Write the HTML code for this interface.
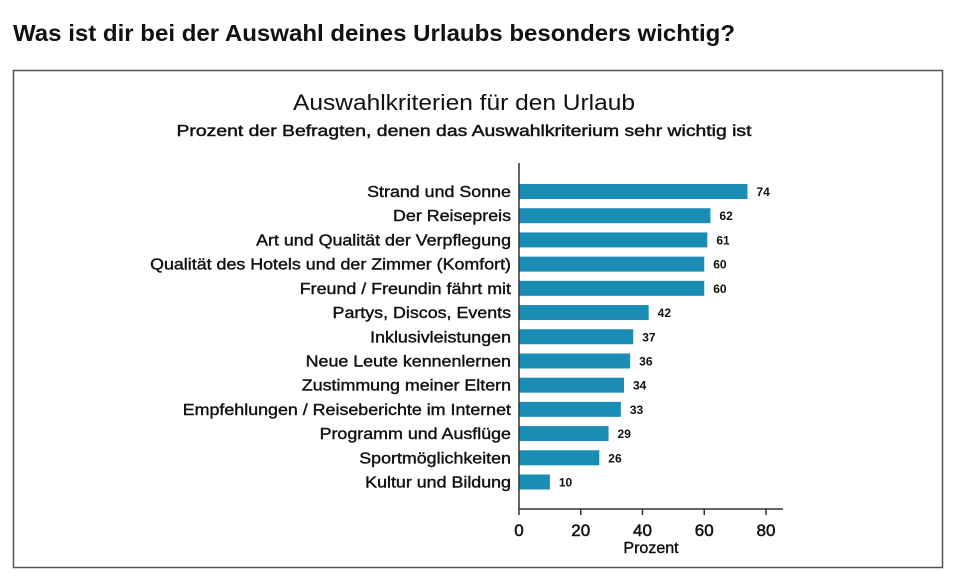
<!DOCTYPE html>
<html><head><meta charset="utf-8"><style>
body{margin:0;background:#fff;width:953px;height:579px;overflow:hidden;font-family:"Liberation Sans",sans-serif}
</style></head><body>
<svg width="953" height="579" viewBox="0 0 953 579">
<text x="13" y="41" font-size="23" font-weight="bold" fill="#111" textLength="722" lengthAdjust="spacingAndGlyphs">Was ist dir bei der Auswahl deines Urlaubs besonders wichtig?</text>
<rect x="13.5" y="70.5" width="929" height="497" fill="none" stroke="#555" stroke-width="1.5"/>
<text x="464" y="110" font-size="22" text-anchor="middle" fill="#111" textLength="342" lengthAdjust="spacingAndGlyphs">Auswahlkriterien für den Urlaub</text>
<text x="464" y="136" font-size="16" text-anchor="middle" fill="#111" stroke="#111" stroke-width="0.45" textLength="575" lengthAdjust="spacingAndGlyphs">Prozent der Befragten, denen das Auswahlkriterium sehr wichtig ist</text>
<g id="plot"></g>
</svg>
<script>
const categories=["Strand und Sonne","Der Reisepreis","Art und Qualität der Verpflegung","Qualität des Hotels und der Zimmer (Komfort)","Freund / Freundin fährt mit","Partys, Discos, Events","Inklusivleistungen","Neue Leute kennenlernen","Zustimmung meiner Eltern","Empfehlungen / Reiseberichte im Internet","Programm und Ausflüge","Sportmöglichkeiten","Kultur und Bildung"];
const values=[74,62,61,60,60,42,37,36,34,33,29,26,10];
const ticks=[0,20,40,60,80];
const NS="http://www.w3.org/2000/svg";
const g=document.getElementById('plot');
const x0=519,xScale=(766-519)/80;
const xPos=v=>x0+v*xScale;
const yTop=191.5,yStep=(482-191.5)/12;
const yPos=i=>yTop+i*yStep;
function mk(t,a){const e=document.createElementNS(NS,t);for(const k in a)e.setAttribute(k,a[k]);g.appendChild(e);return e;}
categories.forEach((c,i)=>{
 const y=yPos(i);
 const b=mk('rect',{x:x0,y:y-7.5,width:xPos(values[i])-x0,height:15,fill:'#1a8db5'});
 
 
 const l=mk('text',{x:511,y:y+5.5,'font-size':16,'text-anchor':'end',fill:'#111',stroke:'#111','stroke-width':0.4});
 l.textContent=c;
 
 
 const w=l.getComputedTextLength()*1.115;
 l.setAttribute('textLength',w);
 l.setAttribute('lengthAdjust','spacingAndGlyphs');
 const v=mk('text',{x:xPos(values[i])+9,y:y+4.5,'font-size':12,'font-weight':'bold',fill:'#111'});
 v.textContent=values[i];
 
 
});
const ya=mk('line',{x1:x0,y1:163,x2:x0,y2:509,stroke:'#333','stroke-width':1.5});


const xa=mk('line',{x1:x0,y1:509,x2:783,y2:509,stroke:'#333','stroke-width':1.5});


ticks.forEach(t=>{
 const x=xPos(t);
 const tk=mk('line',{x1:x,y1:509,x2:x,y2:515,stroke:'#333','stroke-width':1.5});
 
 
 const tl=mk('text',{x:x,y:536,'font-size':17,'text-anchor':'middle',fill:'#111',stroke:'#111','stroke-width':0.5});
 tl.textContent=t;
 
 
});
const xt=mk('text',{x:651,y:553,'font-size':16,'text-anchor':'middle',fill:'#111',stroke:'#111','stroke-width':0.4});
xt.textContent='Prozent';


</script>
</body></html>
